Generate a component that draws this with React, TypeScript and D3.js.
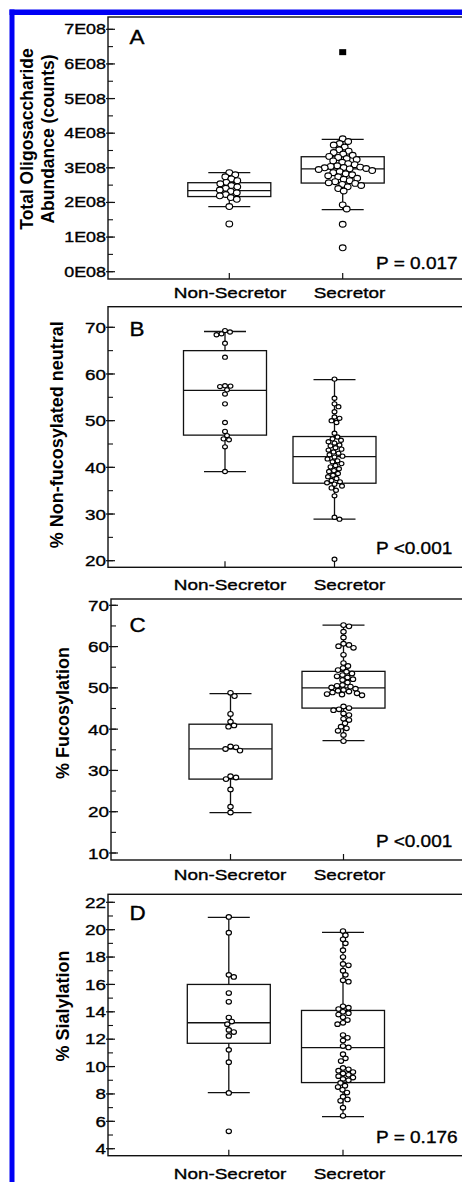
import React from 'react';
import * as d3 from 'd3';

// ---------- DATA ----------
const categories = ['Non-Secretor', 'Secretor'];
const panelLetters = ['A', 'B', 'C', 'D'];
const pValueLabels = ['P = 0.017', 'P <0.001', 'P <0.001', 'P = 0.176'];

// Panel A: total oligosaccharide abundance (units of 1E08 counts)
const totalNonSecretor = [2.86, 2.8, 2.74, 2.68, 2.63, 2.58, 2.54, 2.49, 2.45, 2.41, 2.36, 2.32, 2.28, 2.23, 2.19, 2.14, 2.09, 1.88, 1.38];
const totalSecretor = [3.84, 3.76, 3.7, 3.66, 3.6, 3.52, 3.48, 3.44, 3.4, 3.36, 3.33, 3.3, 3.27, 3.24, 3.2, 3.16, 3.12, 3.09, 3.06, 3.04, 3.02, 3.01, 3.0, 2.98, 2.97, 2.95, 2.92, 2.89, 2.86, 2.83, 2.8, 2.77, 2.74, 2.7, 2.67, 2.63, 2.6, 2.57, 2.55, 2.52, 2.49, 2.45, 2.4, 2.33, 1.93, 1.81, 1.37, 0.69];
const totalSecretorExtremes = [6.34];
const totalBoxNonSecretor = [1.88, 2.17, 2.34, 2.57, 2.86];
const totalBoxSecretor = [1.79, 2.56, 2.97, 3.32, 3.82];
const totalTicks = [0, 1, 2, 3, 4, 5, 6, 7];
const totalTickLabels = ['0E08', '1E08', '2E08', '3E08', '4E08', '5E08', '6E08', '7E08'];

// Panel B: % non-fucosylated neutral
const nonFucNonSecretor = [69.3, 69.0, 68.6, 68.4, 66.6, 63.6, 57.5, 57.3, 57.4, 56.6, 55.7, 53.6, 49.6, 47.7, 46.8, 46.1, 45.9, 44.4, 39.1];
const nonFucSecretor = [58.9, 54.8, 53.6, 53.0, 51.9, 50.8, 50.5, 50.0, 49.6, 47.3, 46.5, 46.1, 45.8, 45.5, 45.2, 44.8, 44.6, 44.2, 43.9, 43.7, 43.3, 43.0, 42.7, 42.4, 42.2, 41.8, 41.4, 41.2, 40.8, 40.4, 40.1, 39.7, 39.3, 39.1, 38.7, 38.3, 38.0, 37.6, 37.2, 36.9, 36.7, 36.4, 36.0, 35.6, 35.1, 33.9, 29.3, 28.9, 20.3];
const nonFucBoxNonSecretor = [39.1, 46.9, 56.5, 65.0, 69.1];
const nonFucBoxSecretor = [28.9, 36.6, 42.3, 46.6, 58.8];
const nonFucTicks = [20, 30, 40, 50, 60, 70];

// Panel C: % fucosylation
const fucNonSecretor = [48.8, 48.0, 43.7, 41.8, 40.9, 40.6, 35.8, 35.6, 35.2, 34.8, 28.6, 28.3, 27.9, 25.4, 21.2, 19.8];
const fucSecretor = [65.2, 64.9, 63.6, 62.2, 60.7, 60.4, 60.1, 59.7, 58.0, 56.0, 55.3, 54.8, 54.3, 53.9, 53.5, 53.1, 52.8, 52.5, 52.1, 51.9, 51.3, 50.7, 50.5, 50.3, 50.1, 49.8, 49.5, 49.3, 49.1, 48.9, 48.7, 48.5, 48.4, 48.2, 45.5, 45.1, 44.8, 44.6, 43.8, 43.4, 42.5, 42.2, 41.4, 40.6, 40.2, 39.6, 38.6, 37.1];
const fucBoxNonSecretor = [19.8, 27.9, 35.2, 41.2, 48.6];
const fucBoxSecretor = [37.2, 45.1, 50.0, 54.0, 65.2];
const fucTicks = [10, 20, 30, 40, 50, 60, 70];

// Panel D: % sialylation
const sialNonSecretor = [20.93, 19.78, 16.7, 16.55, 15.37, 14.73, 13.58, 13.29, 13.1, 12.68, 12.52, 12.24, 11.22, 10.32, 8.07, 5.27];
const sialSecretor = [19.9, 19.6, 19.3, 19.0, 18.5, 18.0, 17.5, 17.4, 17.0, 16.7, 16.3, 16.2, 14.4, 14.3, 14.2, 14.0, 13.9, 13.8, 13.6, 13.4, 13.2, 13.1, 12.3, 12.1, 11.9, 11.5, 11.4, 10.9, 10.6, 10.4, 9.9, 9.8, 9.7, 9.6, 9.5, 9.4, 9.3, 9.2, 9.1, 9.0, 8.8, 8.6, 8.5, 8.3, 8.1, 7.8, 7.6, 7.5, 7.0, 6.4];
const sialBoxNonSecretor = [8.1, 11.7, 13.2, 16.0, 20.9];
const sialBoxSecretor = [6.34, 8.83, 11.39, 14.1, 19.8];
const sialTicks = [4, 6, 8, 10, 12, 14, 16, 18, 20, 22];

// ---------- LAYOUT ----------
const FONT = '"Liberation Sans", Arial, Helvetica, sans-serif';
const TEXT_STROKE = 0.35;

type Panel = {
  top: number; bottom: number; left: number;
  domain: [number, number]; range: [number, number];
  xs: [number, number]; r: number; overlap: number;
  ticks: number[]; tickLabels: string[]; minorStep: number;
  tickFont: number; tickScale: number;
  groups: number[][]; boxes: number[][]; extremes: number[][];
  title: string[]; titleX: number[]; titleY: number; titleFont: number;
  letterY: number; pY: number; labelY: number;
};

const panels: Panel[] = [
  {
    top: 17, bottom: 279, left: 108, domain: [0, 7], range: [271.7, 29.3],
    xs: [229.3, 342.7], r: 2.9, overlap: 0.92,
    ticks: totalTicks, tickLabels: totalTickLabels, minorStep: 0.5,
    tickFont: 14, tickScale: 1.28,
    groups: [totalNonSecretor, totalSecretor], boxes: [totalBoxNonSecretor, totalBoxSecretor],
    extremes: [[], totalSecretorExtremes],
    title: ['Total Oligosaccharide', 'Abundance (counts)'], titleX: [33, 54], titleY: 139, titleFont: 17.5,
    letterY: 44, pY: 268.7, labelY: 298.3,
  },
  {
    top: 306.7, bottom: 567.3, left: 108, domain: [20, 70], range: [560.7, 327.3],
    xs: [225, 334.5], r: 2.1, overlap: 1.05,
    ticks: nonFucTicks, tickLabels: nonFucTicks.map(String), minorStep: 5,
    tickFont: 15.5, tickScale: 1.22,
    groups: [nonFucNonSecretor, nonFucSecretor], boxes: [nonFucBoxNonSecretor, nonFucBoxSecretor],
    extremes: [[], []],
    title: ['% Non-fucosylated neutral'], titleX: [62.5], titleY: 434.7, titleFont: 18,
    letterY: 335.7, pY: 554, labelY: 590,
  },
  {
    top: 599, bottom: 860, left: 111, domain: [10, 70], range: [853, 605.3],
    xs: [230.5, 343.5], r: 2.35, overlap: 1.0,
    ticks: fucTicks, tickLabels: fucTicks.map(String), minorStep: 5,
    tickFont: 15.5, tickScale: 1.22,
    groups: [fucNonSecretor, fucSecretor], boxes: [fucBoxNonSecretor, fucBoxSecretor],
    extremes: [[], []],
    title: ['% Fucosylation'], titleX: [68.5], titleY: 713, titleFont: 18,
    letterY: 631.7, pY: 846.7, labelY: 880,
  },
  {
    top: 894.3, bottom: 1155.7, left: 108, domain: [4, 22], range: [1148.7, 902.3],
    xs: [228.8, 343], r: 2.3, overlap: 1.0,
    ticks: sialTicks, tickLabels: sialTicks.map(String), minorStep: 1,
    tickFont: 14.5, tickScale: 1.3,
    groups: [sialNonSecretor, sialSecretor], boxes: [sialBoxNonSecretor, sialBoxSecretor],
    extremes: [[], []],
    title: ['% Sialylation'], titleX: [68.5], titleY: 1006, titleFont: 18,
    letterY: 920, pY: 1142.7, labelY: 1178.5,
  },
];

const labelXs = [230, 349.5];
const SX = 1.15; // horizontal stretch of markers
const BOX_HALF = 41.5;
const CAP_HALF = 21;

function swarm(values: number[], y: (v: number) => number, cx: number, r: number, overlap: number) {
  const sorted = [...values].sort((a, b) => b - a);
  const placed: { x: number; y: number }[] = [];
  const d = 2 * r * overlap;
  for (const v of sorted) {
    const py = y(v);
    let chosen = cx;
    for (let k = 0; k < 400; k++) {
      const off = Math.ceil(k / 2) * 0.5 * (k % 2 === 1 ? 1 : -1);
      const px = cx + off;
      const ok = placed.every((p) => {
        const dx = (p.x - px) / SX;
        const dy = p.y - py;
        return dx * dx + dy * dy >= d * d;
      });
      if (ok) { chosen = px; break; }
    }
    placed.push({ x: chosen, y: py });
  }
  return placed;
}

function PanelView({ p, i }: { p: Panel; i: number }) {
  const y = d3.scaleLinear().domain(p.domain).range(p.range);
  const x = d3.scalePoint<string>().domain(categories).range(p.xs);
  const minor = d3.range(p.domain[0], p.domain[1] + 1e-9, p.minorStep);
  const stroke = '#111';
  const txt = { fontFamily: FONT, fill: '#000', stroke: '#000', strokeWidth: TEXT_STROKE };
  return (
    <g>
      <rect x={p.left} y={p.top} width={480 - p.left} height={p.bottom - p.top} fill="none" stroke={stroke} strokeWidth={1.4} />
      {minor.map((v, k) => (
        <line key={'m' + k} x1={p.left} x2={p.left + 5} y1={y(v)} y2={y(v)} stroke={stroke} strokeWidth={1.1} />
      ))}
      {p.ticks.map((v, k) => (
        <g key={'t' + k}>
          <line x1={p.left - 2} x2={p.left + 7} y1={y(v)} y2={y(v)} stroke={stroke} strokeWidth={1.2} />
          <text transform={`translate(${p.left - 2},${y(v) + p.tickFont * 0.36}) scale(${p.tickScale},1)`}
            textAnchor="end" fontSize={p.tickFont} {...txt}>{p.tickLabels[k]}</text>
        </g>
      ))}
      {categories.map((c, k) => (
        <g key={'c' + k}>
          <line x1={x(c)} x2={x(c)} y1={p.bottom} y2={p.bottom - 6} stroke={stroke} strokeWidth={1.2} />
          <text transform={`translate(${labelXs[k]},${p.labelY}) scale(1.23,1)`} textAnchor="middle"
            fontSize={15.4} {...txt}>{c}</text>
        </g>
      ))}
      {p.title.map((t, k) => (
        <text key={'ti' + k} transform={`translate(${p.titleX[k]},${p.titleY}) rotate(-90)`} textAnchor="middle"
          fontSize={p.titleFont} fontWeight="bold" fontFamily={FONT} fill="#000">{t}</text>
      ))}
      <text transform={`translate(129.5,${p.letterY}) scale(1.15,1)`} fontSize={19.5} {...txt}>{panelLetters[i]}</text>
      <text transform={`translate(376,${p.pY}) scale(1.12,1)`} fontSize={17} {...txt}>{pValueLabels[i]}</text>
      {categories.map((c, k) => {
        const [wl, q1, med, q3, wh] = p.boxes[k];
        const cx = x(c) as number;
        return (
          <g key={'b' + k} stroke={stroke} strokeWidth={1.3} fill="none">
            <rect x={cx - BOX_HALF} y={y(q3)} width={BOX_HALF * 2} height={y(q1) - y(q3)} />
            <line x1={cx - BOX_HALF} x2={cx + BOX_HALF} y1={y(med)} y2={y(med)} />
            <line x1={cx} x2={cx} y1={y(q3)} y2={y(wh)} />
            <line x1={cx} x2={cx} y1={y(q1)} y2={y(wl)} />
            <line x1={cx - CAP_HALF} x2={cx + CAP_HALF} y1={y(wh)} y2={y(wh)} />
            <line x1={cx - CAP_HALF} x2={cx + CAP_HALF} y1={y(wl)} y2={y(wl)} />
          </g>
        );
      })}
      {categories.map((c, k) => {
        const pts = swarm(p.groups[k], y, x(c) as number, p.r, p.overlap);
        return (
          <g key={'p' + k}>
            {pts.map((pt, j) => (
              <ellipse key={j} cx={pt.x} cy={pt.y} rx={p.r * SX} ry={p.r} fill="#fff" stroke="#000" strokeWidth={1.15} />
            ))}
            {p.extremes[k].map((v, j) => (
              <rect key={'e' + j} x={(x(c) as number) - 3.5} y={y(v) - 3} width={7} height={6} fill="#000" />
            ))}
          </g>
        );
      })}
    </g>
  );
}

export default function App() {
  return (
    <svg width={462} height={1182} style={{ position: 'absolute', left: 0, top: 0, background: '#fff' }}>
      <rect x={0} y={0} width={462} height={1182} fill="#fff" />
      <rect x={9.5} y={9.5} width={5} height={1180} fill="#0000f5" />
      <rect x={9.5} y={9.5} width={460} height={5.5} fill="#0000f5" />
      {panels.map((p, i) => <PanelView key={i} p={p} i={i} />)}
    </svg>
  );
}
